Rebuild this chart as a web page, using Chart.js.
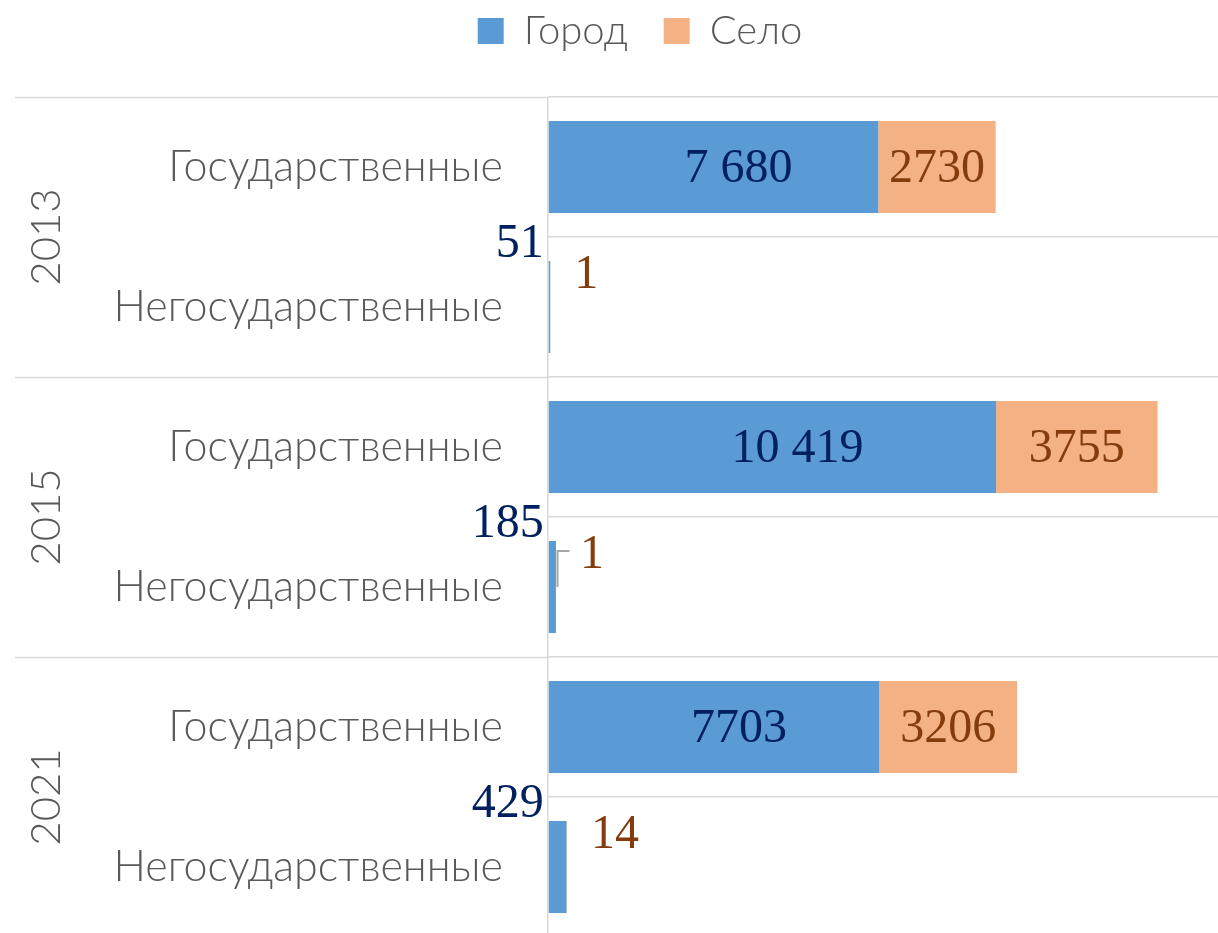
<!DOCTYPE html>
<html lang="ru">
<head>
<meta charset="UTF-8">
<title>Город и село</title>
<style>
  html, body { margin: 0; padding: 0; overflow: hidden; background: #fff; }
  #wrap { width: 1218px; height: 937px; }
</style>
</head>
<body>
<div id="wrap"><canvas id="chart" width="1218" height="937"></canvas></div>
<script src="https://cdn.jsdelivr.net/npm/chart.js"></script>
<script>
// данные
const years = ['2013', '2015', '2021'];
const categories = ['Государственные', 'Негосударственные', 'Государственные', 'Негосударственные', 'Государственные', 'Негосударственные'];
const gorod = [7680, 51, 10419, 185, 7703, 429];
const selo = [2730, 1, 3755, 1, 3206, 14];
// подписи как на исходной картинке
const gorodLabels = ['7 680', '51', '10 419', '185', '7703', '429'];
const seloLabels = ['2730', '1', '3755', '1', '3206', '14'];

const GREY = '#595959';
const GRID = '#D9D9D9';
const labelSets = [gorodLabels, seloLabels];
const labelColors = ['#002060', '#843C0C'];

// высота легенды и её сдвиг
const legendFix = {
  id: 'legendFix',
  beforeInit(chart) {
    const fit = chart.legend.fit;
    chart.legend.fit = function () { fit.call(this); this.height = 97; };
  },
  afterLayout(chart) {
    chart.legend.left += 62;
    chart.legend.top -= 25;
  }
};

// года слева и длинные разделители групп
const yearAxis = {
  id: 'yearAxis',
  afterDraw(chart) {
    const ctx = chart.ctx;
    const y = chart.scales.y;
    ctx.save();
    ctx.strokeStyle = GRID;
    ctx.lineWidth = 1.5;
    for (let g = 0; g <= years.length; g++) {
      const py = Math.round(y.getPixelForValue(g * 2 - 0.5)) + 0.5;
      ctx.beginPath();
      ctx.moveTo(15, py);
      ctx.lineTo(chart.chartArea.left, py);
      ctx.stroke();
    }
    ctx.fillStyle = GREY;
    ctx.font = '300 42px Lato';
    ctx.textAlign = 'center';
    ctx.textBaseline = 'middle';
    years.forEach((yr, g) => {
      const cy = y.getPixelForValue(g * 2 + 0.5);
      ctx.save();
      ctx.translate(46, cy);
      ctx.rotate(-Math.PI / 2);
      ctx.fillText(yr, 0, 0);
      ctx.restore();
    });
    ctx.restore();
  }
};

// подписи значений
const valueLabels = {
  id: 'valueLabels',
  afterDatasetsDraw(chart) {
    const ctx = chart.ctx;
    ctx.save();
    ctx.font = '48px "Liberation Serif"';
    ctx.textBaseline = 'middle';
    chart.data.datasets.forEach((ds, di) => {
      const meta = chart.getDatasetMeta(di);
      meta.data.forEach((bar, i) => {
        const text = labelSets[di][i];
        const top = bar.y - bar.height / 2;
        ctx.fillStyle = labelColors[di];
        if (bar.x - bar.base > 60) {
          ctx.textAlign = 'center';
          ctx.fillText(text, (bar.x + bar.base) / 2 + (di === 0 ? 25 : 0), bar.y + 2);
        } else if (di === 0) {
          ctx.textAlign = 'right';
          ctx.fillText(text, bar.base - 5, top - 17);
        } else {
          ctx.textAlign = 'left';
          ctx.fillText(text, bar.x + 24, top + 14);
          if (i === 3) {
            // выноска
            const lx = Math.round(bar.x) + 1.5;
            ctx.strokeStyle = '#A6A6A6';
            ctx.lineWidth = 2;
            ctx.beginPath();
            ctx.moveTo(lx, top + 46);
            ctx.lineTo(lx, top + 10);
            ctx.lineTo(lx + 12, top + 10);
            ctx.stroke();
          }
        }
      });
    });
    ctx.restore();
  }
};

new Chart(document.getElementById('chart'), {
  type: 'bar',
  data: {
    labels: categories,
    datasets: [
      { label: 'Город', data: gorod, backgroundColor: '#5B9BD5', borderWidth: 0 },
      { label: 'Село', data: selo, backgroundColor: '#F4B183', borderWidth: 0 }
    ]
  },
  options: {
    indexAxis: 'y',
    responsive: false,
    devicePixelRatio: 1,
    animation: false,
    layout: { padding: 0 },
    datasets: { bar: { categoryPercentage: 1, barPercentage: 92 / 140 } },
    scales: {
      x: {
        stacked: true,
        min: 0,
        max: 15580,
        ticks: { display: false, stepSize: 2000 },
        border: { display: false },
        grid: {
          drawTicks: false,
          lineWidth: 1.5,
          color: c => (c.tick && c.tick.value % 2000 === 0 ? GRID : 'rgba(0,0,0,0)')
        }
      },
      y: {
        stacked: true,
        afterFit(scale) {
          scale.width = 548;
          scale.paddingTop = 0;
          scale.paddingBottom = 0;
        },
        border: { display: false },
        grid: { offset: true, drawTicks: false, color: GRID, lineWidth: 1.5 },
        ticks: { color: GREY, font: { family: 'Lato', size: 43, weight: '300' }, padding: 45 }
      }
    },
    plugins: {
      tooltip: { enabled: false },
      legend: {
        position: 'top',
        labels: {
          color: GREY,
          font: { family: 'Lato', size: 40, weight: '300' },
          boxWidth: 26,
          boxHeight: 26,
          padding: 36
        }
      }
    }
  },
  plugins: [legendFix, yearAxis, valueLabels]
});
</script>
</body>
</html>
